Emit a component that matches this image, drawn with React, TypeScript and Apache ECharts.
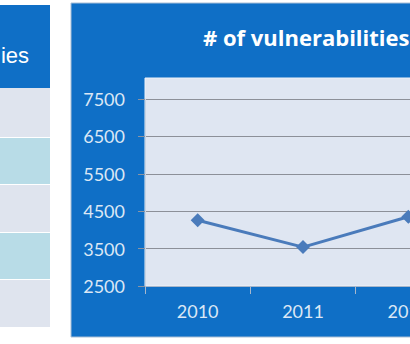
import React, { useEffect, useRef } from "react";
import * as echarts from "echarts";

const categories = ["2010", "2011", "2012"];
const vulnerabilities = [4260, 3540, 4350];
const yTicks = { min: 2500, max: 7500, interval: 1000 };
const chartTitle = "# of vulnerabilities";
const tableHeader = "ies";
const tableRowColors = ["#dfe4ee", "#b8dce7", "#dfe4ee", "#b8dce7", "#dfe4ee"];

const BLUE = "#0f6fc6";
const LABEL = "#dbe7f5";

export default function App() {
  const ref = useRef<HTMLDivElement>(null);
  useEffect(() => {
    if (!ref.current) return;
    const chart = echarts.init(ref.current, undefined, { renderer: "svg" });
    const rowTops = [88, 138, 185, 233, 280];
    const rowHeights = [49, 46, 47, 46, 47];
    const rows = tableRowColors.map((c, i) => ({
      type: "rect",
      shape: { x: 0, y: rowTops[i], width: 50, height: rowHeights[i] },
      style: { fill: c },
      z: 0,
    }));
    chart.setOption({
      animation: false,
      backgroundColor: "#ffffff",
      graphic: [
        { type: "rect", shape: { x: 0, y: 5, width: 50, height: 83 }, style: { fill: BLUE }, z: 0 },
        {
          type: "text",
          x: 29,
          y: 55,
          style: {
            text: tableHeader,
            fill: "#ffffff",
            font: "22px 'Liberation Sans', Arial, sans-serif",
            align: "right",
            verticalAlign: "middle",
          },
          z: 1,
        },
        ...rows,
        {
          type: "rect",
          shape: { x: 71, y: 3, width: 420, height: 334 },
          style: { fill: BLUE, stroke: "#a9bfd6", lineWidth: 1 },
          z: 0,
        },
        {
          type: "rect",
          shape: { x: 145, y: 78, width: 316, height: 208 },
          style: { fill: "#dfe6f2", stroke: "#eef2f8", lineWidth: 1 },
          z: 0,
        },
        {
          type: "text",
          x: 203,
          y: 37,
          style: {
            text: chartTitle,
            fill: "#ffffff",
            font: "bold 22px 'Open Sans', Lato, sans-serif",
            align: "left",
            verticalAlign: "middle",
          },
          z: 1,
        },
      ],
      grid: { left: 145, top: 99, width: 316, height: 187, show: false },
      xAxis: {
        type: "category",
        data: categories,
        boundaryGap: true,
        axisLine: { show: true, lineStyle: { color: "#a7b7cc", width: 1 } },
        axisTick: { show: true, alignWithLabel: false, length: 8, lineStyle: { color: "#a7b7cc" } },
        axisLabel: { color: LABEL, fontFamily: "Lato, sans-serif", fontSize: 18, margin: 16 },
        splitLine: { show: false },
      },
      yAxis: {
        type: "value",
        min: yTicks.min,
        max: yTicks.max,
        interval: yTicks.interval,
        axisLine: { show: true, lineStyle: { color: "#c9d3e0", width: 1 } },
        axisTick: { show: true, length: 7, lineStyle: { color: "#8a94a3" } },
        axisLabel: {
          color: LABEL,
          fontFamily: "Lato, sans-serif",
          fontSize: 18,
          margin: 20,
          formatter: (v: number) => String(v),
        },
        splitLine: { show: true, lineStyle: { color: "#8c9099", width: 1 } },
      },
      series: [
        {
          type: "line",
          data: vulnerabilities,
          symbol: "diamond",
          symbolSize: 14,
          itemStyle: { color: "#4a7bbb" },
          lineStyle: { color: "#4a7bbb", width: 3 },
          clip: false,
          z: 5,
        },
      ],
    });
    return () => chart.dispose();
  }, []);
  return (
    <div style={{ position: "fixed", left: 0, top: 0, width: 410, height: 344, overflow: "hidden" }}>
      <div ref={ref} style={{ width: 480, height: 344 }} />
    </div>
  );
}
